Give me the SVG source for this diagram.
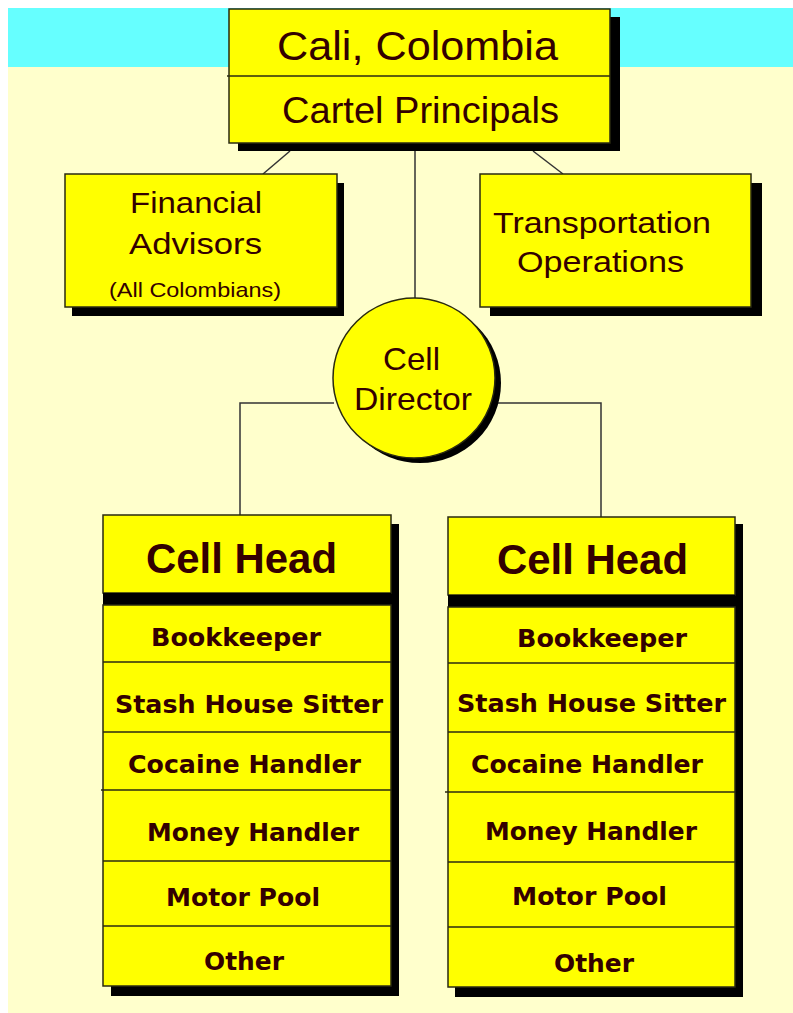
<svg xmlns="http://www.w3.org/2000/svg" width="793" height="1013" viewBox="0 0 793 1013">
<style>
.box{fill:#FFFF00;stroke:#2a2a10;stroke-width:1.5}
.sh{fill:#000}
.div{stroke:#2a2a10;stroke-width:1.5;fill:none}
.con{stroke:#333;stroke-width:1.5;fill:none}
.t{font-family:"Liberation Sans",Arial,sans-serif;fill:#330000;text-anchor:middle}
.r{font-family:"DejaVu Sans","Liberation Sans",sans-serif;font-weight:bold;font-size:25px;fill:#330000;text-anchor:middle}
.h{font-family:"Liberation Sans",Arial,sans-serif;font-weight:bold;font-size:42px;fill:#330000;text-anchor:middle}
</style>
<rect x="0" y="0" width="793" height="1013" fill="#FFFFFF"/>
<rect x="8" y="8" width="785" height="1005" fill="#FFFFCC"/>
<rect x="8" y="8" width="785" height="59" fill="#66FFFF"/>

<g id="connectors">
<line class="con" x1="415" y1="143" x2="415" y2="298"/>
<line class="con" x1="290" y1="151" x2="263" y2="174"/>
<line class="con" x1="533" y1="151" x2="563" y2="174"/>
<polyline class="con" points="334,403 240,403 240,515"/>
<polyline class="con" points="496,403 601,403 601,517"/>
</g>

<g id="cartel">
<rect class="sh" x="238" y="17" width="382" height="134"/>
<rect class="box" x="229" y="9" width="381" height="134"/>
<line class="div" x1="227" y1="76" x2="610" y2="76"/>
<text class="t" x="417.5" y="60" font-size="40" textLength="281" lengthAdjust="spacingAndGlyphs">Cali, Colombia</text>
<text class="t" x="420.5" y="123" font-size="36" textLength="277" lengthAdjust="spacingAndGlyphs">Cartel Principals</text>
</g>

<g id="financial">
<rect class="sh" x="72" y="183" width="272" height="133"/>
<rect class="box" x="65" y="174" width="272" height="133"/>
<text class="t" x="196" y="213" font-size="30" textLength="132" lengthAdjust="spacingAndGlyphs">Financial</text>
<text class="t" x="195.5" y="254" font-size="30" textLength="133" lengthAdjust="spacingAndGlyphs">Advisors</text>
<text class="t" x="195" y="297" font-size="21" textLength="172" lengthAdjust="spacingAndGlyphs">(All Colombians)</text>
</g>

<g id="transportation">
<rect class="sh" x="490" y="183" width="272" height="133"/>
<rect class="box" x="480" y="174" width="271" height="133"/>
<text class="t" x="602" y="233" font-size="30" textLength="218" lengthAdjust="spacingAndGlyphs">Transportation</text>
<text class="t" x="600.5" y="272" font-size="30" textLength="167" lengthAdjust="spacingAndGlyphs">Operations</text>
</g>

<g id="director">
<ellipse class="sh" cx="420" cy="383" rx="81" ry="80"/>
<ellipse class="box" cx="414" cy="378" rx="81" ry="80"/>
<text class="t" x="411.5" y="370" font-size="32" textLength="57" lengthAdjust="spacingAndGlyphs">Cell</text>
<text class="t" x="413" y="410" font-size="32" textLength="118" lengthAdjust="spacingAndGlyphs">Director</text>
</g>

<g id="cellhead-left">
<rect class="sh" x="111" y="524" width="288" height="472"/>
<rect class="box" x="103" y="515" width="288" height="78"/>
<rect class="sh" x="103" y="593" width="288" height="12"/>
<rect class="box" x="103" y="605" width="288" height="381"/>
<line class="div" x1="103" y1="662" x2="391" y2="662"/>
<line class="div" x1="103" y1="732" x2="391" y2="732"/>
<line class="div" x1="101" y1="790" x2="391" y2="790"/>
<line class="div" x1="103" y1="861" x2="391" y2="861"/>
<line class="div" x1="103" y1="926" x2="391" y2="926"/>
<text class="h" x="241.5" y="573" textLength="191" lengthAdjust="spacingAndGlyphs">Cell Head</text>
<text class="r" x="236" y="646" textLength="170" lengthAdjust="spacingAndGlyphs">Bookkeeper</text>
<text class="r" x="249" y="713" textLength="268" lengthAdjust="spacingAndGlyphs">Stash House Sitter</text>
<text class="r" x="244.5" y="773" textLength="233" lengthAdjust="spacingAndGlyphs">Cocaine Handler</text>
<text class="r" x="253" y="841" textLength="212" lengthAdjust="spacingAndGlyphs">Money Handler</text>
<text class="r" x="243" y="906" textLength="154" lengthAdjust="spacingAndGlyphs">Motor Pool</text>
<text class="r" x="244" y="970" textLength="80" lengthAdjust="spacingAndGlyphs">Other</text>
</g>

<g id="cellhead-right">
<rect class="sh" x="455" y="524" width="288" height="473"/>
<rect class="box" x="448" y="517" width="287" height="78"/>
<rect class="sh" x="448" y="595" width="287" height="12"/>
<rect class="box" x="448" y="607" width="287" height="380"/>
<line class="div" x1="448" y1="663" x2="735" y2="663"/>
<line class="div" x1="448" y1="732" x2="735" y2="732"/>
<line class="div" x1="445" y1="792" x2="735" y2="792"/>
<line class="div" x1="448" y1="862" x2="735" y2="862"/>
<line class="div" x1="448" y1="927" x2="735" y2="927"/>
<text class="h" x="592.5" y="574" textLength="191" lengthAdjust="spacingAndGlyphs">Cell Head</text>
<text class="r" x="602" y="647" textLength="170" lengthAdjust="spacingAndGlyphs">Bookkeeper</text>
<text class="r" x="591.5" y="712" textLength="269" lengthAdjust="spacingAndGlyphs">Stash House Sitter</text>
<text class="r" x="587" y="773" textLength="232" lengthAdjust="spacingAndGlyphs">Cocaine Handler</text>
<text class="r" x="591" y="840" textLength="212" lengthAdjust="spacingAndGlyphs">Money Handler</text>
<text class="r" x="589.5" y="905" textLength="155" lengthAdjust="spacingAndGlyphs">Motor Pool</text>
<text class="r" x="594" y="972" textLength="80" lengthAdjust="spacingAndGlyphs">Other</text>
</g>
</svg>
